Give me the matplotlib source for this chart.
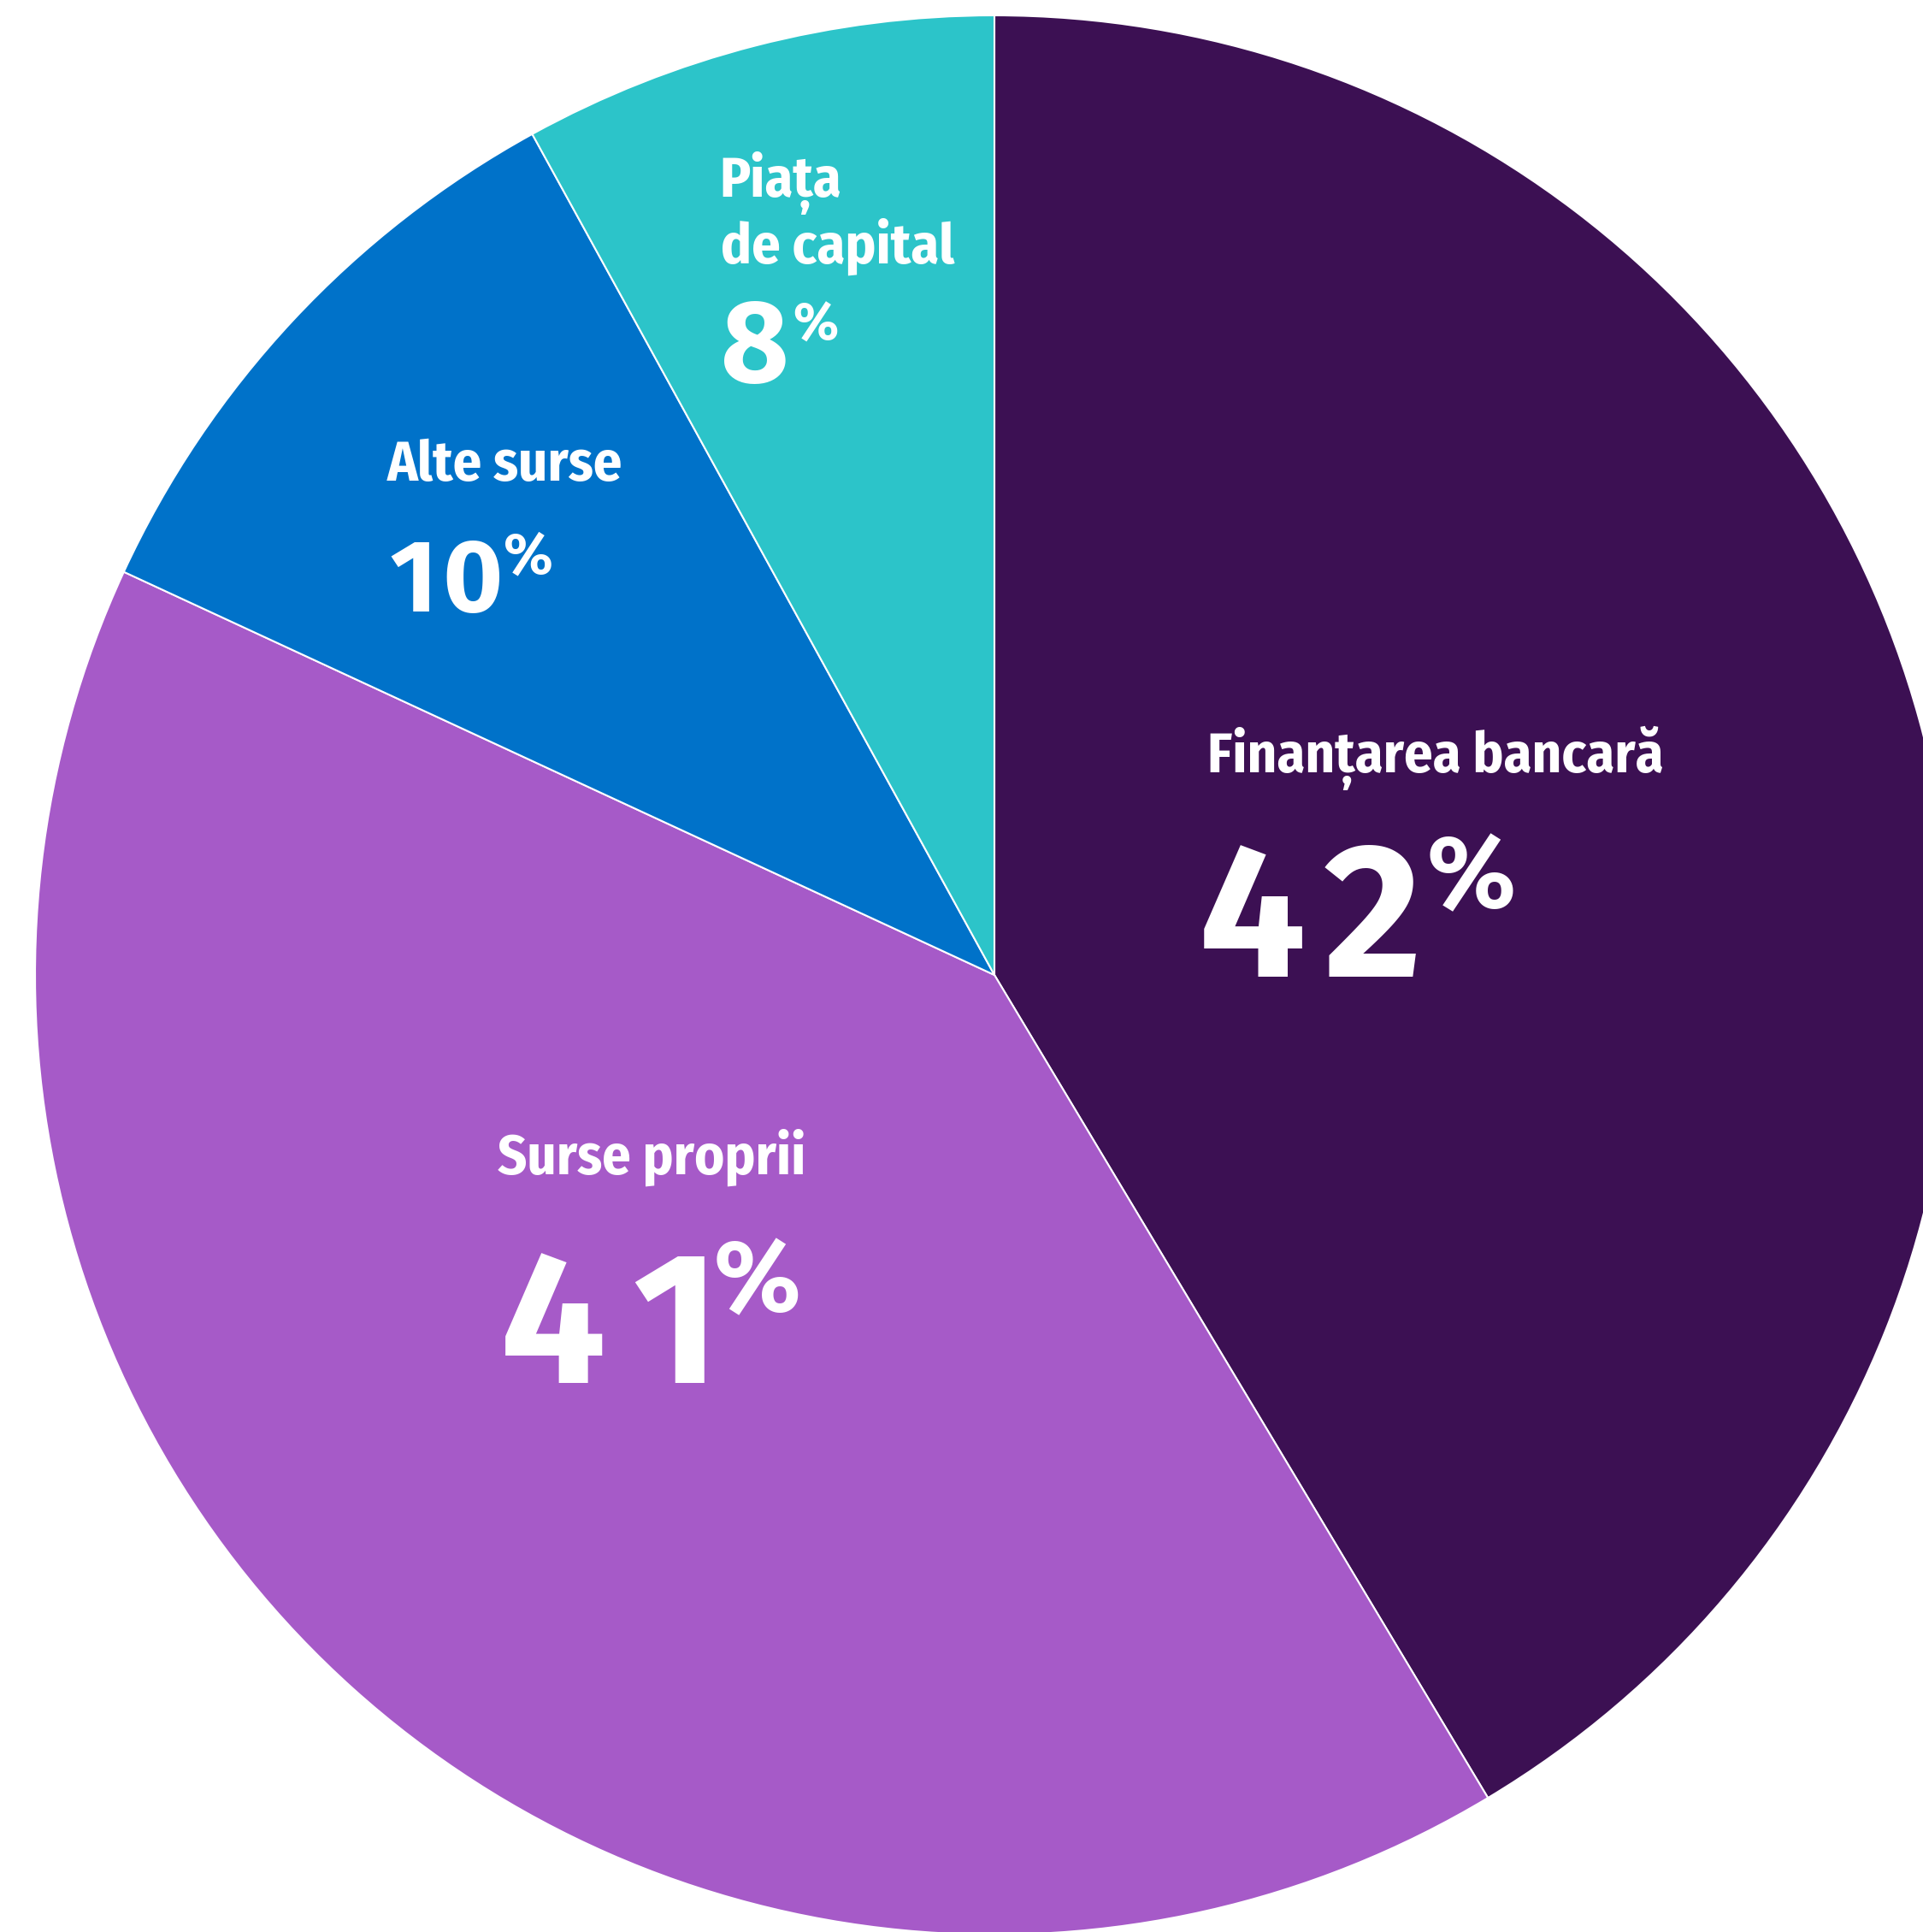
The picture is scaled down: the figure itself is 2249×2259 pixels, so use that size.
import matplotlib
matplotlib.use("Agg")
import matplotlib.pyplot as plt
from matplotlib import font_manager as fm
from matplotlib.textpath import TextPath

# data (shares, labels as printed)
categories = ["Finanțarea bancară", "Surse proprii", "Alte surse", "Piața\nde capital"]
shares = [41.4, 40.5, 10.1, 8.0]
share_labels = ["42", "41", "10", "8"]
colors = ["#3C1053", "#A65AC8", "#0072C9", "#2CC4C9"]

W, H = 2249, 2259               # output size in px
CX, CY, R = 1163, 1140, 1122    # pie centre / radius in px (from top-left)

# text layout in px (from top-left):
# label left, label baseline, number left, number baseline, number height,
# gap between digits, percent bottom, percent height, gap before %
label_pos = [
    (1416, 903, 1408, 1142, 154, 26, 1066, 92, 17),
    (582, 1373, 591, 1617, 152, 38, 1538, 90, 15),
    (452, 562, 457, 715, 85, 21, 673, 51, 7),
    (845, 230, 847, 447, 97, 0, 400, 47, 10),
]
label_cap = 46
line_step = 78

avail = {f.name for f in fm.fontManager.ttflist}
lab_family = next(f for f in ["Fira Sans Condensed", "Fira Sans", "DejaVu Sans"] if f in avail)
num_family = next(f for f in ["Fira Sans", "Fira Sans Condensed", "DejaVu Sans"] if f in avail)
lab_fp = fm.FontProperties(family=lab_family, weight="bold")
num_fp = fm.FontProperties(family=num_family, weight="bold")


def ink(s, fp):
    # ink box of a string at size 1 (units of font size)
    return TextPath((0, 0), s, size=1, prop=fp).get_extents()


def size_for(s, fp, height_px):
    # font size in pt so that the ink of s is height_px tall
    return height_px / ink(s, fp).height * 72 / 100


def put(s, fp, left, base, size):
    bb = ink(s, fp)
    px = size * 100 / 72
    x = left - bb.x0 * px
    fig.text(x / W, 1 - base / H, s, color="white", fontsize=size,
             fontproperties=fp, ha="left", va="baseline")
    return x + bb.x1 * px   # right edge of ink


fig = plt.figure(figsize=(W / 100, H / 100), dpi=100)
ax = fig.add_axes([0, 0, 1, 1])
ax.pie(shares, colors=colors, startangle=90, counterclock=False, radius=1,
       wedgeprops=dict(edgecolor="white", linewidth=1.5))
ax.set_aspect("auto")
ax.set_xlim(-CX / R, (W - CX) / R)
ax.set_ylim(-(H - CY) / R, CY / R)
ax.axis("off")

lsize = size_for("H", lab_fp, label_cap)
for name, num, (lx, ly, nx, ny, nh, dgap, pb, ph, gap) in zip(categories, share_labels, label_pos):
    for i, line in enumerate(name.split("\n")):
        put(line, lab_fp, lx, ly + i * line_step, lsize)
    # digits one by one, spaced like tabular figures
    nsize = size_for(num, num_fp, nh)
    right = nx - dgap
    for ch in num:
        right = put(ch, num_fp, right + dgap, ny, nsize)
    psize = size_for("%", num_fp, ph)
    pbb = ink("%", num_fp)
    put("%", num_fp, right + gap, pb + pbb.y0 * psize * 100 / 72, psize)

fig.savefig("out.png", dpi=100)
